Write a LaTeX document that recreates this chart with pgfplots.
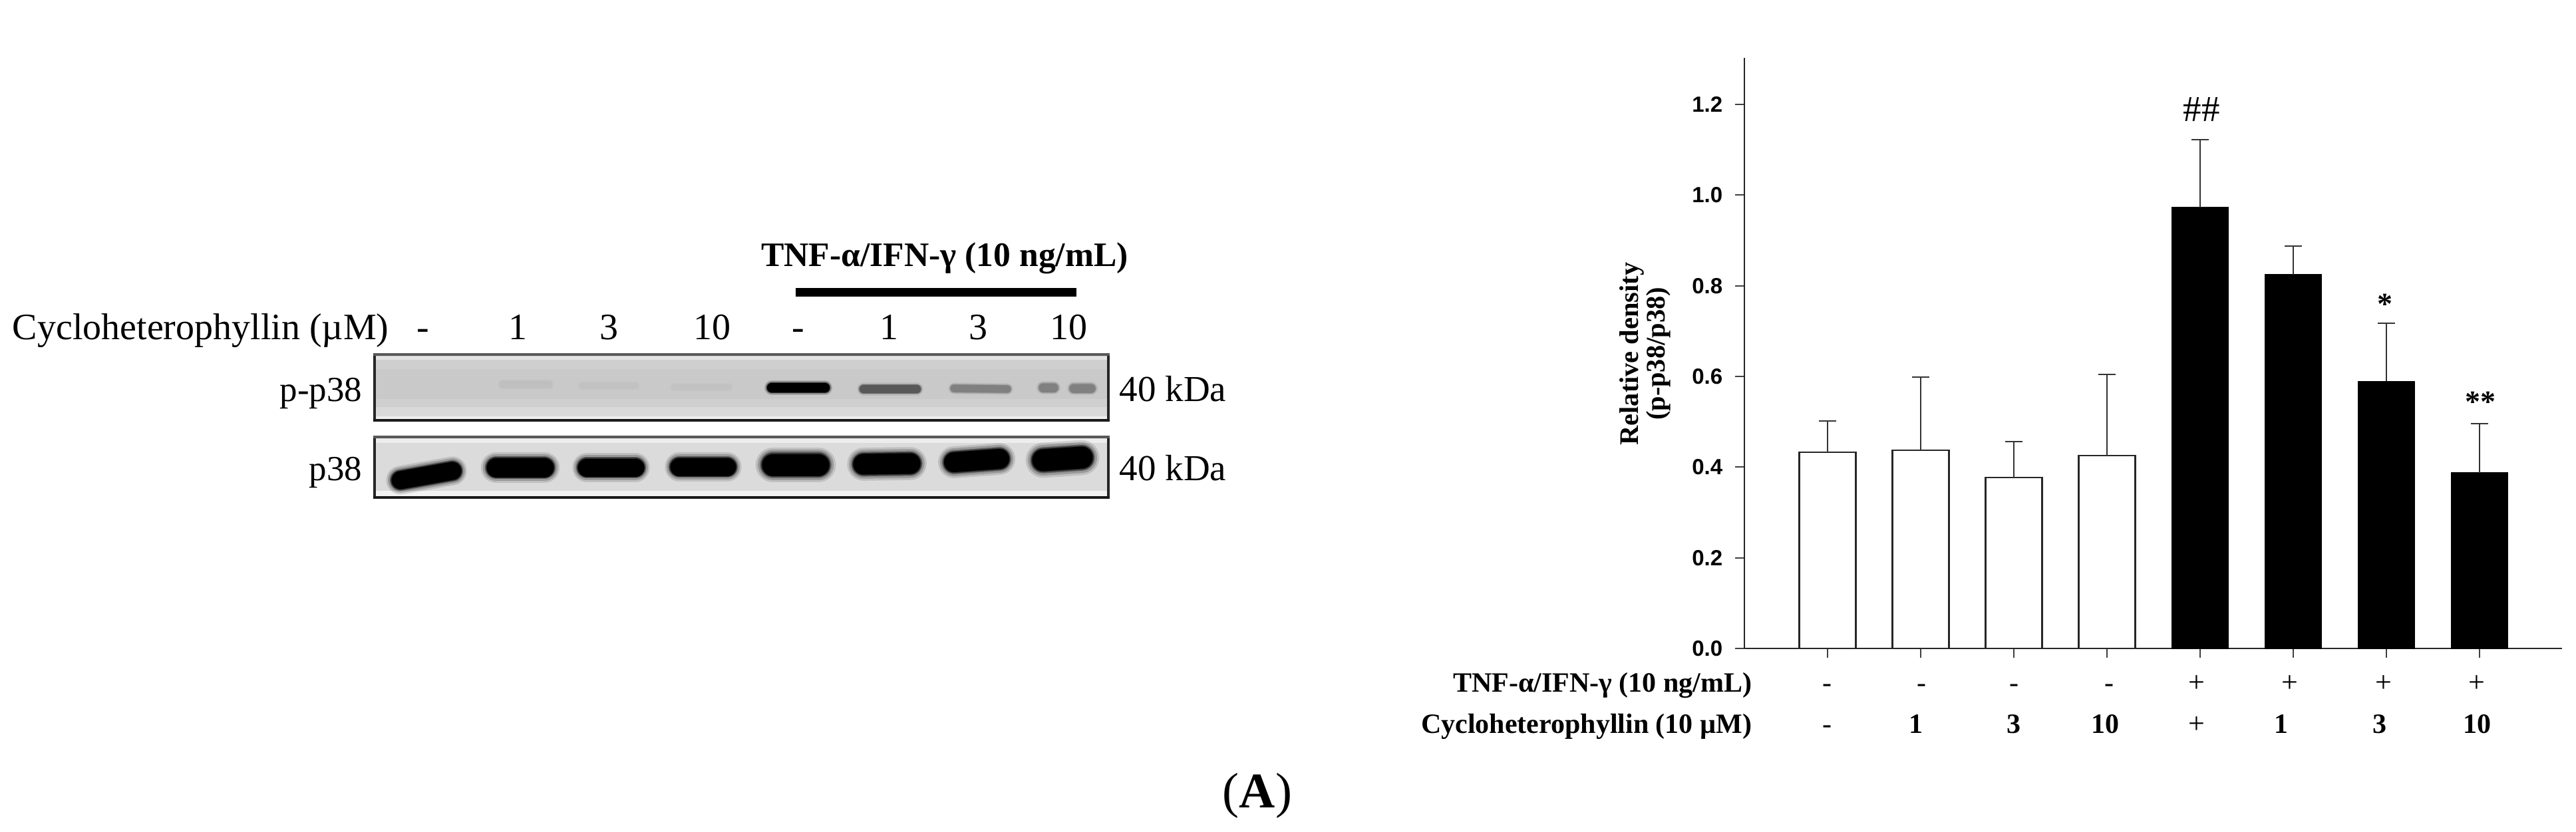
\documentclass[border=0pt]{standalone}
\usepackage{fontspec}
\setmainfont{Liberation Serif}
\newfontfamily\arialfont{Liberation Sans}
\usepackage{pgfplots}
\pgfplotsset{compat=1.18}

% 1 px of the reference = 0.25pt here
\newcommand{\rect}[5]{\addplot[no markers,draw=none,fill=#5] coordinates {(#1,#2) (#3,#2) (#3,#4) (#1,#4)} --cycle;}
\newcommand{\band}[6]{%
  \addplot[no markers,line cap=round,line width=#5*0.25pt*1.6,color=#6,opacity=0.12] coordinates {(#1,#2) (#3,#4)};
  \addplot[no markers,line cap=round,line width=#5*0.25pt*1.4,color=#6,opacity=0.2] coordinates {(#1,#2) (#3,#4)};
  \addplot[no markers,line cap=round,line width=#5*0.25pt*1.2,color=#6,opacity=0.35] coordinates {(#1,#2) (#3,#4)};
  \addplot[no markers,line cap=round,line width=#5*0.25pt*1.1,color=#6,opacity=0.5] coordinates {(#1,#2) (#3,#4)};
  \addplot[no markers,line cap=round,line width=#5*0.25pt,color=#6] coordinates {(#1,#2) (#3,#4)};
}
\newcommand{\frameblot}[2]{%
  \addplot[no markers,line width=1pt,color=black!85] coordinates {(563,#1) (563,#2)};
  \addplot[no markers,line width=1pt,color=black!85] coordinates {(1666,#1) (1666,#2)};
  \addplot[no markers,line width=1.1pt,color=black!65] coordinates {(561,#1) (1668,#1)};
  \addplot[no markers,line width=1.1pt,color=black!90] coordinates {(561,#2) (1668,#2)};
}

\begin{document}
\begin{tikzpicture}
\path[use as bounding box] (0,0) rectangle (968pt,312.75pt);

% blots and free text, in reference pixels
\begin{axis}[
    at={(0pt,0pt)}, anchor=south west,
    scale only axis, width=968pt, height=312.75pt,
    xmin=0, xmax=3872, ymin=0, ymax=1251, y dir=reverse,
    hide axis, clip=false,
]
% p-p38
\rect{563}{533}{1666}{632}{black!19}
\rect{563}{536}{1666}{541}{black!11}
\rect{563}{555}{1666}{600}{black!21}
\rect{563}{612}{1666}{626}{black!15}
\rect{563}{626}{1666}{632}{black!7}
\band{756}{578}{825}{578}{10}{black!25}
\band{875}{580}{955}{580}{9}{black!24}
\band{1014}{582}{1095}{582}{9}{black!24}
\band{1160}{583}{1240}{583}{14}{black}
\band{1298}{585}{1378}{585}{12}{black!65}
\band{1434}{584}{1514}{585}{11}{black!50}
\band{1568}{583}{1584}{583}{13}{black!50}
\band{1614}{584}{1640}{584}{13}{black!50}
\frameblot{533}{632}
% p38
\rect{563}{657}{1666}{748}{black!14}
\rect{563}{660}{1666}{666}{black!7}
\rect{563}{738}{1666}{748}{black!5}
\band{602}{722}{680}{708}{27}{black}
\band{746}{703}{818}{703}{29}{black}
\band{882}{703}{955}{703}{27}{black}
\band{1021}{702}{1093}{702}{27}{black}
\band{1162}{699}{1230}{699}{33}{black}
\band{1298}{698}{1368}{697}{31}{black}
\band{1434}{695}{1502}{690}{30}{black}
\band{1568}{692}{1626}{688}{33}{black}
\frameblot{657}{748}
% blot labels
\node[anchor=base,inner sep=0pt,font=\fontsize{12.9pt}{14pt}\selectfont\bfseries] at (1420,400) {TNF-α/IFN-γ (10 ng/mL)};
\rect{1196}{433}{1618}{446}{black}
\node[anchor=base west,inner sep=0pt,font=\fontsize{14pt}{16pt}\selectfont] at (18,510) {Cycloheterophyllin (µM)};
\node[anchor=base,inner sep=0pt,font=\fontsize{14pt}{16pt}\selectfont] at (636,510) {-};
\node[anchor=base,inner sep=0pt,font=\fontsize{14pt}{16pt}\selectfont] at (778,510) {1};
\node[anchor=base,inner sep=0pt,font=\fontsize{14pt}{16pt}\selectfont] at (915,510) {3};
\node[anchor=base,inner sep=0pt,font=\fontsize{14pt}{16pt}\selectfont] at (1070,510) {10};
\node[anchor=base,inner sep=0pt,font=\fontsize{14pt}{16pt}\selectfont] at (1200,510) {-};
\node[anchor=base,inner sep=0pt,font=\fontsize{14pt}{16pt}\selectfont] at (1336,510) {1};
\node[anchor=base,inner sep=0pt,font=\fontsize{14pt}{16pt}\selectfont] at (1470,510) {3};
\node[anchor=base,inner sep=0pt,font=\fontsize{14pt}{16pt}\selectfont] at (1606,510) {10};
\node[anchor=base east,inner sep=0pt,font=\fontsize{13.25pt}{15pt}\selectfont] at (545,603) {p-p38};
\node[anchor=base east,inner sep=0pt,font=\fontsize{13.25pt}{15pt}\selectfont] at (545,722) {p38};
\node[anchor=base west,inner sep=0pt,font=\fontsize{13.75pt}{15pt}\selectfont] at (1682,603) {40 kDa};
\node[anchor=base west,inner sep=0pt,font=\fontsize{13.75pt}{15pt}\selectfont] at (1682,722) {40 kDa};
\node[anchor=base,inner sep=0pt,font=\fontsize{18.75pt}{20pt}\selectfont] at (1890,1214) {(\textbf{A})};
% bar chart labels
\node[rotate=90,anchor=base,inner sep=0pt,font=\fontsize{10.1pt}{12pt}\selectfont\bfseries] at (2462,532) {Relative density};
\node[rotate=90,anchor=base,inner sep=0pt,font=\fontsize{10.1pt}{12pt}\selectfont\bfseries] at (2502,532) {(p-p38/p38)};
\node[anchor=base east,inner sep=0pt,font=\fontsize{10.5pt}{12pt}\selectfont\bfseries] at (2634,1040) {TNF-α/IFN-γ (10 ng/mL)};
\node[anchor=base east,inner sep=0pt,font=\fontsize{10.5pt}{12pt}\selectfont\bfseries] at (2634,1102) {Cycloheterophyllin (10 µM)};
\node[anchor=base,inner sep=0pt,font=\fontsize{10.5pt}{12pt}\selectfont] at (2746,1040) {-};
\node[anchor=base,inner sep=0pt,font=\fontsize{10.5pt}{12pt}\selectfont] at (2888,1040) {-};
\node[anchor=base,inner sep=0pt,font=\fontsize{10.5pt}{12pt}\selectfont] at (3027,1040) {-};
\node[anchor=base,inner sep=0pt,font=\fontsize{10.5pt}{12pt}\selectfont] at (3170,1040) {-};
\node[anchor=base,inner sep=0pt,font=\fontsize{11pt}{12pt}\selectfont] at (3302,1040) {+};
\node[anchor=base,inner sep=0pt,font=\fontsize{11pt}{12pt}\selectfont] at (3442,1040) {+};
\node[anchor=base,inner sep=0pt,font=\fontsize{11pt}{12pt}\selectfont] at (3583,1040) {+};
\node[anchor=base,inner sep=0pt,font=\fontsize{11pt}{12pt}\selectfont] at (3723,1040) {+};
\node[anchor=base,inner sep=0pt,font=\fontsize{10.5pt}{12pt}\selectfont] at (2746,1102) {-};
\node[anchor=base,inner sep=0pt,font=\fontsize{10.5pt}{12pt}\selectfont\bfseries] at (2880,1102) {1};
\node[anchor=base,inner sep=0pt,font=\fontsize{10.5pt}{12pt}\selectfont\bfseries] at (3027,1102) {3};
\node[anchor=base,inner sep=0pt,font=\fontsize{10.5pt}{12pt}\selectfont\bfseries] at (3164,1102) {10};
\node[anchor=base,inner sep=0pt,font=\fontsize{11pt}{12pt}\selectfont] at (3302,1102) {+};
\node[anchor=base,inner sep=0pt,font=\fontsize{10.5pt}{12pt}\selectfont\bfseries] at (3429,1102) {1};
\node[anchor=base,inner sep=0pt,font=\fontsize{10.5pt}{12pt}\selectfont\bfseries] at (3577,1102) {3};
\node[anchor=base,inner sep=0pt,font=\fontsize{10.5pt}{12pt}\selectfont\bfseries] at (3723,1102) {10};
\node[anchor=base,inner sep=0pt,font=\fontsize{13.75pt}{15pt}\selectfont] at (3309,182) {\#\#};
\node[anchor=base,inner sep=0pt,font=\fontsize{11.5pt}{13pt}\selectfont\bfseries] at (3585,472) {*};
\node[anchor=base,inner sep=0pt,font=\fontsize{11.5pt}{13pt}\selectfont\bfseries] at (3728,619) {**};
\end{axis}

% bar chart
\begin{axis}[
    at={(655.5pt,69pt)}, anchor=south west,
    scale only axis, width=307.25pt, height=222pt,
    xmin=-0.893, xmax=7.886, ymin=0, ymax=1.3027,
    axis lines=left,
    axis line style={-,line width=0.6pt,black!85},
    tick style={line width=0.5pt,black!75},
    major tick length=3.5pt,
    tick align=outside,
    xtick={0,1,2,3,4,5,6,7},
    xticklabels={},
    ytick={0,0.2,0.4,0.6,0.8,1.0,1.2},
    yticklabel style={
        /pgf/number format/fixed,
        /pgf/number format/fixed zerofill,
        /pgf/number format/precision=1,
        /pgf/number format/assume math mode=true,
        font=\arialfont\fontsize{8.25pt}{10pt}\selectfont\bfseries,
        inner sep=0pt, xshift=-4.5pt,
    },
    ybar, bar width=21.25pt, bar shift=0pt,
    clip=false,
]
\addplot[draw=black!85,line width=0.55pt,fill=white,
    error bars/.cd, y dir=plus, y explicit,
    error bar style={line width=0.5pt,black!80},
    error mark options={rotate=90,mark size=3.25pt,line width=0.5pt,black!80}]
    coordinates {(0,0.433) +- (0,0.068) (1,0.437) +- (0,0.161) (2,0.377) +- (0,0.079) (3,0.425) +- (0,0.179)};
\addplot[draw=black,fill=black,
    error bars/.cd, y dir=plus, y explicit,
    error bar style={line width=0.5pt,black!80},
    error mark options={rotate=90,mark size=3.25pt,line width=0.5pt,black!80}]
    coordinates {(4,0.973) +- (0,0.149) (5,0.825) +- (0,0.062) (6,0.589) +- (0,0.129) (7,0.387) +- (0,0.109)};
\end{axis}
\end{tikzpicture}
\end{document}
